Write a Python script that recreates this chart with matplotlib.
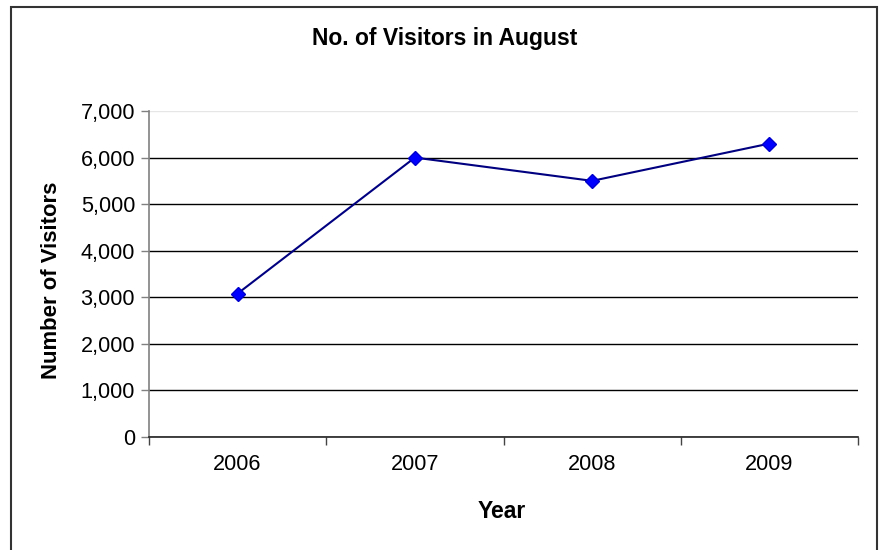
import matplotlib
matplotlib.use("Agg")
import matplotlib.pyplot as plt
from matplotlib.patches import Rectangle

years = ["2006", "2007", "2008", "2009"]
visitors = [3080, 6000, 5500, 6300]
yticks = [0, 1000, 2000, 3000, 4000, 5000, 6000, 7000]
ytick_labels = ["0", "1,000", "2,000", "3,000", "4,000", "5,000", "6,000", "7,000"]

plt.rcParams['font.family'] = ['Liberation Sans', 'DejaVu Sans']

fig = plt.figure(figsize=(8.81, 5.5), dpi=100)
ax = fig.add_axes([149/881, 1-437/550, (858-149)/881, (437-111)/550])

x = list(range(len(years)))
ax.plot(x, visitors, color='#000080', lw=1.5, marker='D', markersize=7,
        markerfacecolor='#0000FF', markeredgecolor='#0000CC', zorder=3, clip_on=False)

ax.set_xlim(-0.5, len(years) - 0.5)
ax.set_ylim(0, 7000)

ax.set_yticks(yticks)
ax.set_yticklabels(ytick_labels, fontsize=15.6)
ax.set_xticks([i - 0.5 for i in range(len(years) + 1)])
ax.set_xticklabels([])
ax.set_xticks(x, minor=True)
ax.set_xticklabels(years, minor=True, fontsize=15.6)
ax.tick_params(axis='x', which='minor', length=0, pad=12)
ax.tick_params(axis='x', which='major', length=6, width=1, color='#444444', direction='out')
ax.tick_params(axis='y', length=6, width=1, color='#808080', direction='out', pad=4)

ax.grid(axis='y', color='black', lw=1)
gl = ax.yaxis.get_gridlines()
gl[-1].set_color('#e6e6e6')
ax.set_axisbelow(True)

for s in ['top', 'right']:
    ax.spines[s].set_visible(False)
ax.spines['left'].set_color('#808080')
ax.spines['left'].set_linewidth(1.2)
ax.spines['bottom'].set_color('#222222')
ax.spines['bottom'].set_linewidth(1.2)

fig.text(445/881, 1-39/550, "No. of Visitors in August", ha='center', va='center',
         fontsize=16.5, fontweight='bold')
fig.text(502/881, 1-511/550, "Year", ha='center', va='center', fontsize=16.5, fontweight='bold')
fig.text(52/881, 1-280/550, "Number of Visitors", ha='center', va='center', rotation=90,
         fontsize=15.9, fontweight='bold')

fig.patches.append(Rectangle((11/881, -0.05), (877-11)/881, 1.05 - 7/550,
                             transform=fig.transFigure, fill=False, edgecolor='#333333',
                             lw=1.5, clip_on=False))

fig.savefig("out.png", dpi=100)
